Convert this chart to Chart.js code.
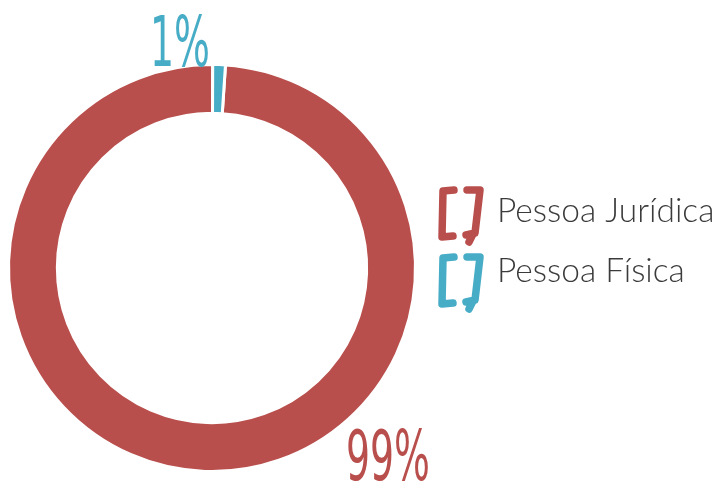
<!DOCTYPE html>
<html>
<head>
<meta charset="utf-8">
<script src="https://cdn.jsdelivr.net/npm/chart.js@4"></script>
<style>
  html, body { margin: 0; padding: 0; background: #fff; }
  #wrap { width: 720px; height: 482px; }
</style>
</head>
<body>
<div id="wrap"><canvas id="chart" width="720" height="482"></canvas></div>
<script>
const labels = ["Pessoa Jurídica", "Pessoa Física"]
const values = [99, 1]
const colors = ["#b94f4c", "#47acc6"]
const pctLabels = ["99%", "1%"]

// percentage labels and bracket legend, drawn after the doughnut
const decorations = {
  id: "decorations",
  afterDraw(chart) {
    const ctx = chart.ctx
    ctx.save()

    // percent labels (narrow, tall)
    const pctPos = [[388, 480], [180, 66]]
    pctLabels.forEach((t, i) => {
      ctx.save()
      ctx.translate(pctPos[i][0], pctPos[i][1])
      ctx.scale(0.6, 1)
      ctx.fillStyle = colors[i]
      ctx.font = "70px 'Liberation Sans Narrow', 'DejaVu Sans Condensed', sans-serif"
      ctx.textAlign = "center"
      ctx.textBaseline = "alphabetic"
      ctx.fillText(t, 0, 0)
      ctx.restore()
    })

    // legend: brush-like brackets + label
    const iconTops = [187, 254]
    const baselines = [222, 282]
    labels.forEach((lab, i) => {
      const t = iconTops[i]
      ctx.strokeStyle = colors[i]
      ctx.lineWidth = 7.5
      ctx.lineCap = "round"
      ctx.lineJoin = "round"
      ctx.beginPath()
      ctx.moveTo(454, t + 3)
      ctx.lineTo(443, t + 4)
      ctx.lineTo(442, t + 50)
      ctx.lineTo(453, t + 49)
      ctx.stroke()
      ctx.beginPath()
      ctx.moveTo(467, t + 3)
      ctx.lineTo(480, t + 3)
      ctx.lineTo(475, t + 46)
      ctx.lineTo(466, t + 48)
      ctx.moveTo(473, t + 47)
      ctx.lineTo(469, t + 55)
      ctx.stroke()

      ctx.fillStyle = "#3b3b3b"
      ctx.font = "300 33.5px Lato, 'Open Sans', sans-serif"
      ctx.textAlign = "left"
      ctx.textBaseline = "alphabetic"
      ctx.fillText(lab, 497, baselines[i])
    })
    ctx.restore()
  }
}

new Chart(document.getElementById("chart"), {
  type: "doughnut",
  data: {
    labels: labels,
    datasets: [{
      data: values,
      backgroundColor: colors,
      borderColor: "#ffffff",
      borderWidth: 3,
      hoverOffset: 0
    }]
  },
  options: {
    responsive: false,
    animation: false,
    rotation: 3.8,
    cutout: "76%",
    layout: { padding: { left: 7, right: 303, top: 63, bottom: 9 } },
    plugins: {
      legend: { display: false },
      tooltip: { enabled: false }
    }
  },
  plugins: [decorations]
})
</script>
</body>
</html>
